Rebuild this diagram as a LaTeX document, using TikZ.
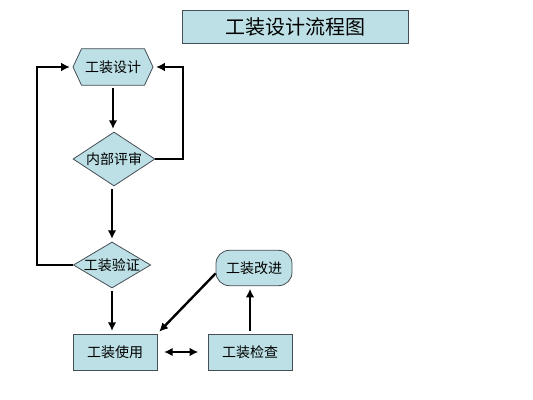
\documentclass[tikz,border=0pt]{standalone}
\usepackage{fontspec}
\newfontfamily\cjk{Noto Sans CJK SC}
\usetikzlibrary{arrows.meta,shapes.geometric,shapes.symbols}
\definecolor{boxfill}{RGB}{188,224,229}
\definecolor{boxline}{RGB}{70,78,86}
\tikzset{
  box/.style={draw=boxline,fill=boxfill,line width=0.6pt,font=\cjk\fontsize{10.5}{12}\selectfont},
  rbox/.style={box,rectangle,minimum width=63pt,minimum height=27pt,inner sep=0pt},
  hexbox/.style={box,signal,signal to=east and west,signal pointer angle=130,minimum width=60pt,minimum height=27.5pt,inner sep=0pt},
  dbox/.style={box,diamond,inner sep=0pt},
  arr/.style={-{Latex[length=6.5pt,width=6.5pt]},line width=1.8pt,shorten >=2pt,shorten <=2pt},
  darr/.style={{Latex[length=6.5pt,width=6.5pt]}-{Latex[length=6.5pt,width=6.5pt]},line width=1.8pt}
}
\begin{document}
\begin{tikzpicture}[x=0.75pt,y=-0.75pt]
      \useasboundingbox (0,0) rectangle (533,400);
      \node[box,rectangle,minimum width=170pt,minimum height=24.5pt,inner sep=0pt,
        font=\cjk\fontsize{15}{18}\selectfont] (title) at (295.5,27) {工装设计流程图};
      \node[hexbox] (design) at (113,67) {工装设计};
      \node[dbox,minimum width=61.5pt,minimum height=40.5pt] (review) at (114,159) {};
      \node[font=\cjk\fontsize{10.5}{12}\selectfont] (reviewtxt) at (review) {内部评审};
      \node[dbox,minimum width=58pt,minimum height=34.5pt] (verify) at (112,265) {};
      \node[font=\cjk\fontsize{10.5}{12}\selectfont] (verifytxt) at (verify) {工装验证};
      \node[rbox] (use) at (115,352) {工装使用};
      \node[rbox] (check) at (250,352) {工装检查};
      \node[box,rectangle,rounded corners=10pt,minimum width=57pt,minimum height=26.5pt,inner sep=0pt] (improve) at (254,268) {工装改进};
      \coordinate (rbend) at (183,67);
      \coordinate (lbend) at (37,67);
      \begin{scope}
        \draw[arr] (design.south) to (design.south |- review.north);
        \draw[arr] (verify.north |- review.south) to (verify.north);
        \draw[arr] (verify.south) to (verify.south |- use.north);
        \draw[arr,shorten <=0pt] (review.east) -| (rbend) -- (design.east);
        \draw[arr,shorten <=0pt] (verify.west) -| (lbend) -- (design.west);
        \draw[arr,shorten <=0pt] (improve.188) to (use.north east);
        \draw[arr] (check.north) to (check.north |- improve.south);
        \draw[darr,shorten >=7pt,shorten <=5pt] (use.east) to (check.west);
      \end{scope}
\end{tikzpicture}
\end{document}
